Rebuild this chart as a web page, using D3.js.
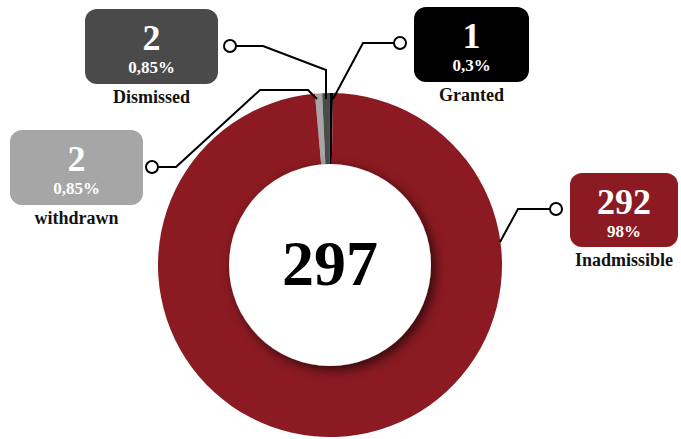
<!DOCTYPE html>
<html>
<head>
<meta charset="utf-8">
<script src="https://cdn.jsdelivr.net/npm/d3@7"></script>
<style>
  html, body { margin: 0; padding: 0; background: #fff; }
  svg { display: block; }
  text { font-family: "Liberation Serif", "DejaVu Serif", serif; font-weight: bold; }
</style>
</head>
<body>
<svg id="chart" width="681" height="439"></svg>
<script>
// ---- data ----
const categories = ["withdrawn", "Dismissed", "Granted", "Inadmissible"];
const counts = [2, 2, 1, 292];
const percentLabels = ["0,85%", "0,85%", "0,3%", "98%"];
const totalLabel = "297";

// ---- styles / layout ----
const colors = ["#a6a6a6", "#4a4a4a", "#000000", "#8b1a22"];
const boxes = [
  { x: 10,  y: 130, w: 133, h: 75 },
  { x: 85,  y: 9,   w: 133, h: 75 },
  { x: 414, y: 7,   w: 115, h: 75 },
  { x: 570, y: 173, w: 108, h: 74 }
];
const connectors = [
  [[152,167],[176,167],[260,90],[308,90],[317,99]],
  [[230,46],[263,46],[326,70],[326,99]],
  [[400,43],[363,43],[333,99]],
  [[556,209],[518,209],[500,242]]
];
const cx = 330, cy = 265, rOuter = 172, rInner = 101;
const startAngle = -0.088;

const svg = d3.select("#chart");
const defs = svg.append("defs");
const f = defs.append("filter").attr("id", "shadow")
  .attr("x", "-30%").attr("y", "-30%").attr("width", "160%").attr("height", "160%");
f.append("feDropShadow").attr("dx", 4).attr("dy", 4).attr("stdDeviation", 6)
  .attr("flood-color", "#000").attr("flood-opacity", 0.65);

const pie = d3.pie().sort(null).value(d => d)
  .startAngle(startAngle).endAngle(startAngle + 2 * Math.PI);
const arcs = pie(counts);
const arc = d3.arc().innerRadius(rInner - 5).outerRadius(rOuter);

const g = svg.append("g").attr("transform", `translate(${cx},${cy})`);
g.selectAll("path.slice").data(arcs).join("path")
  .attr("class", "slice")
  .attr("d", arc)
  .attr("fill", (d, i) => colors[i]);

// inner white disc with shadow
g.append("circle").attr("r", rInner).attr("fill", "#fff").attr("filter", "url(#shadow)");

g.append("text").attr("text-anchor", "middle").attr("y", 20)
  .attr("font-size", 64).attr("fill", "#000").text(totalLabel);

// connectors
const line = d3.line();
svg.selectAll("path.conn").data(connectors).join("path")
  .attr("class", "conn")
  .attr("d", d => line(d))
  .attr("fill", "none").attr("stroke", "#000").attr("stroke-width", 2);
svg.selectAll("circle.dot").data(connectors).join("circle")
  .attr("class", "dot")
  .attr("cx", d => d[0][0]).attr("cy", d => d[0][1]).attr("r", 6)
  .attr("fill", "#fff").attr("stroke", "#000").attr("stroke-width", 2);

// label boxes
const lg = svg.selectAll("g.lbl").data(categories).join("g").attr("class", "lbl");
lg.append("rect")
  .attr("x", (d, i) => boxes[i].x).attr("y", (d, i) => boxes[i].y)
  .attr("width", (d, i) => boxes[i].w).attr("height", (d, i) => boxes[i].h)
  .attr("rx", 12).attr("fill", (d, i) => colors[i]);
lg.append("text").attr("text-anchor", "middle")
  .attr("x", (d, i) => boxes[i].x + boxes[i].w / 2)
  .attr("y", (d, i) => boxes[i].y + 41)
  .attr("font-size", 36).attr("fill", "#fff")
  .text((d, i) => counts[i]);
lg.append("text").attr("text-anchor", "middle")
  .attr("x", (d, i) => boxes[i].x + boxes[i].w / 2)
  .attr("y", (d, i) => boxes[i].y + 64)
  .attr("font-size", 17).attr("fill", "#fff")
  .text((d, i) => percentLabels[i]);
lg.append("text").attr("text-anchor", "middle")
  .attr("x", (d, i) => boxes[i].x + boxes[i].w / 2)
  .attr("y", (d, i) => boxes[i].y + boxes[i].h + 19)
  .attr("font-size", 18).attr("fill", "#111")
  .text(d => d);
</script>
</body>
</html>
